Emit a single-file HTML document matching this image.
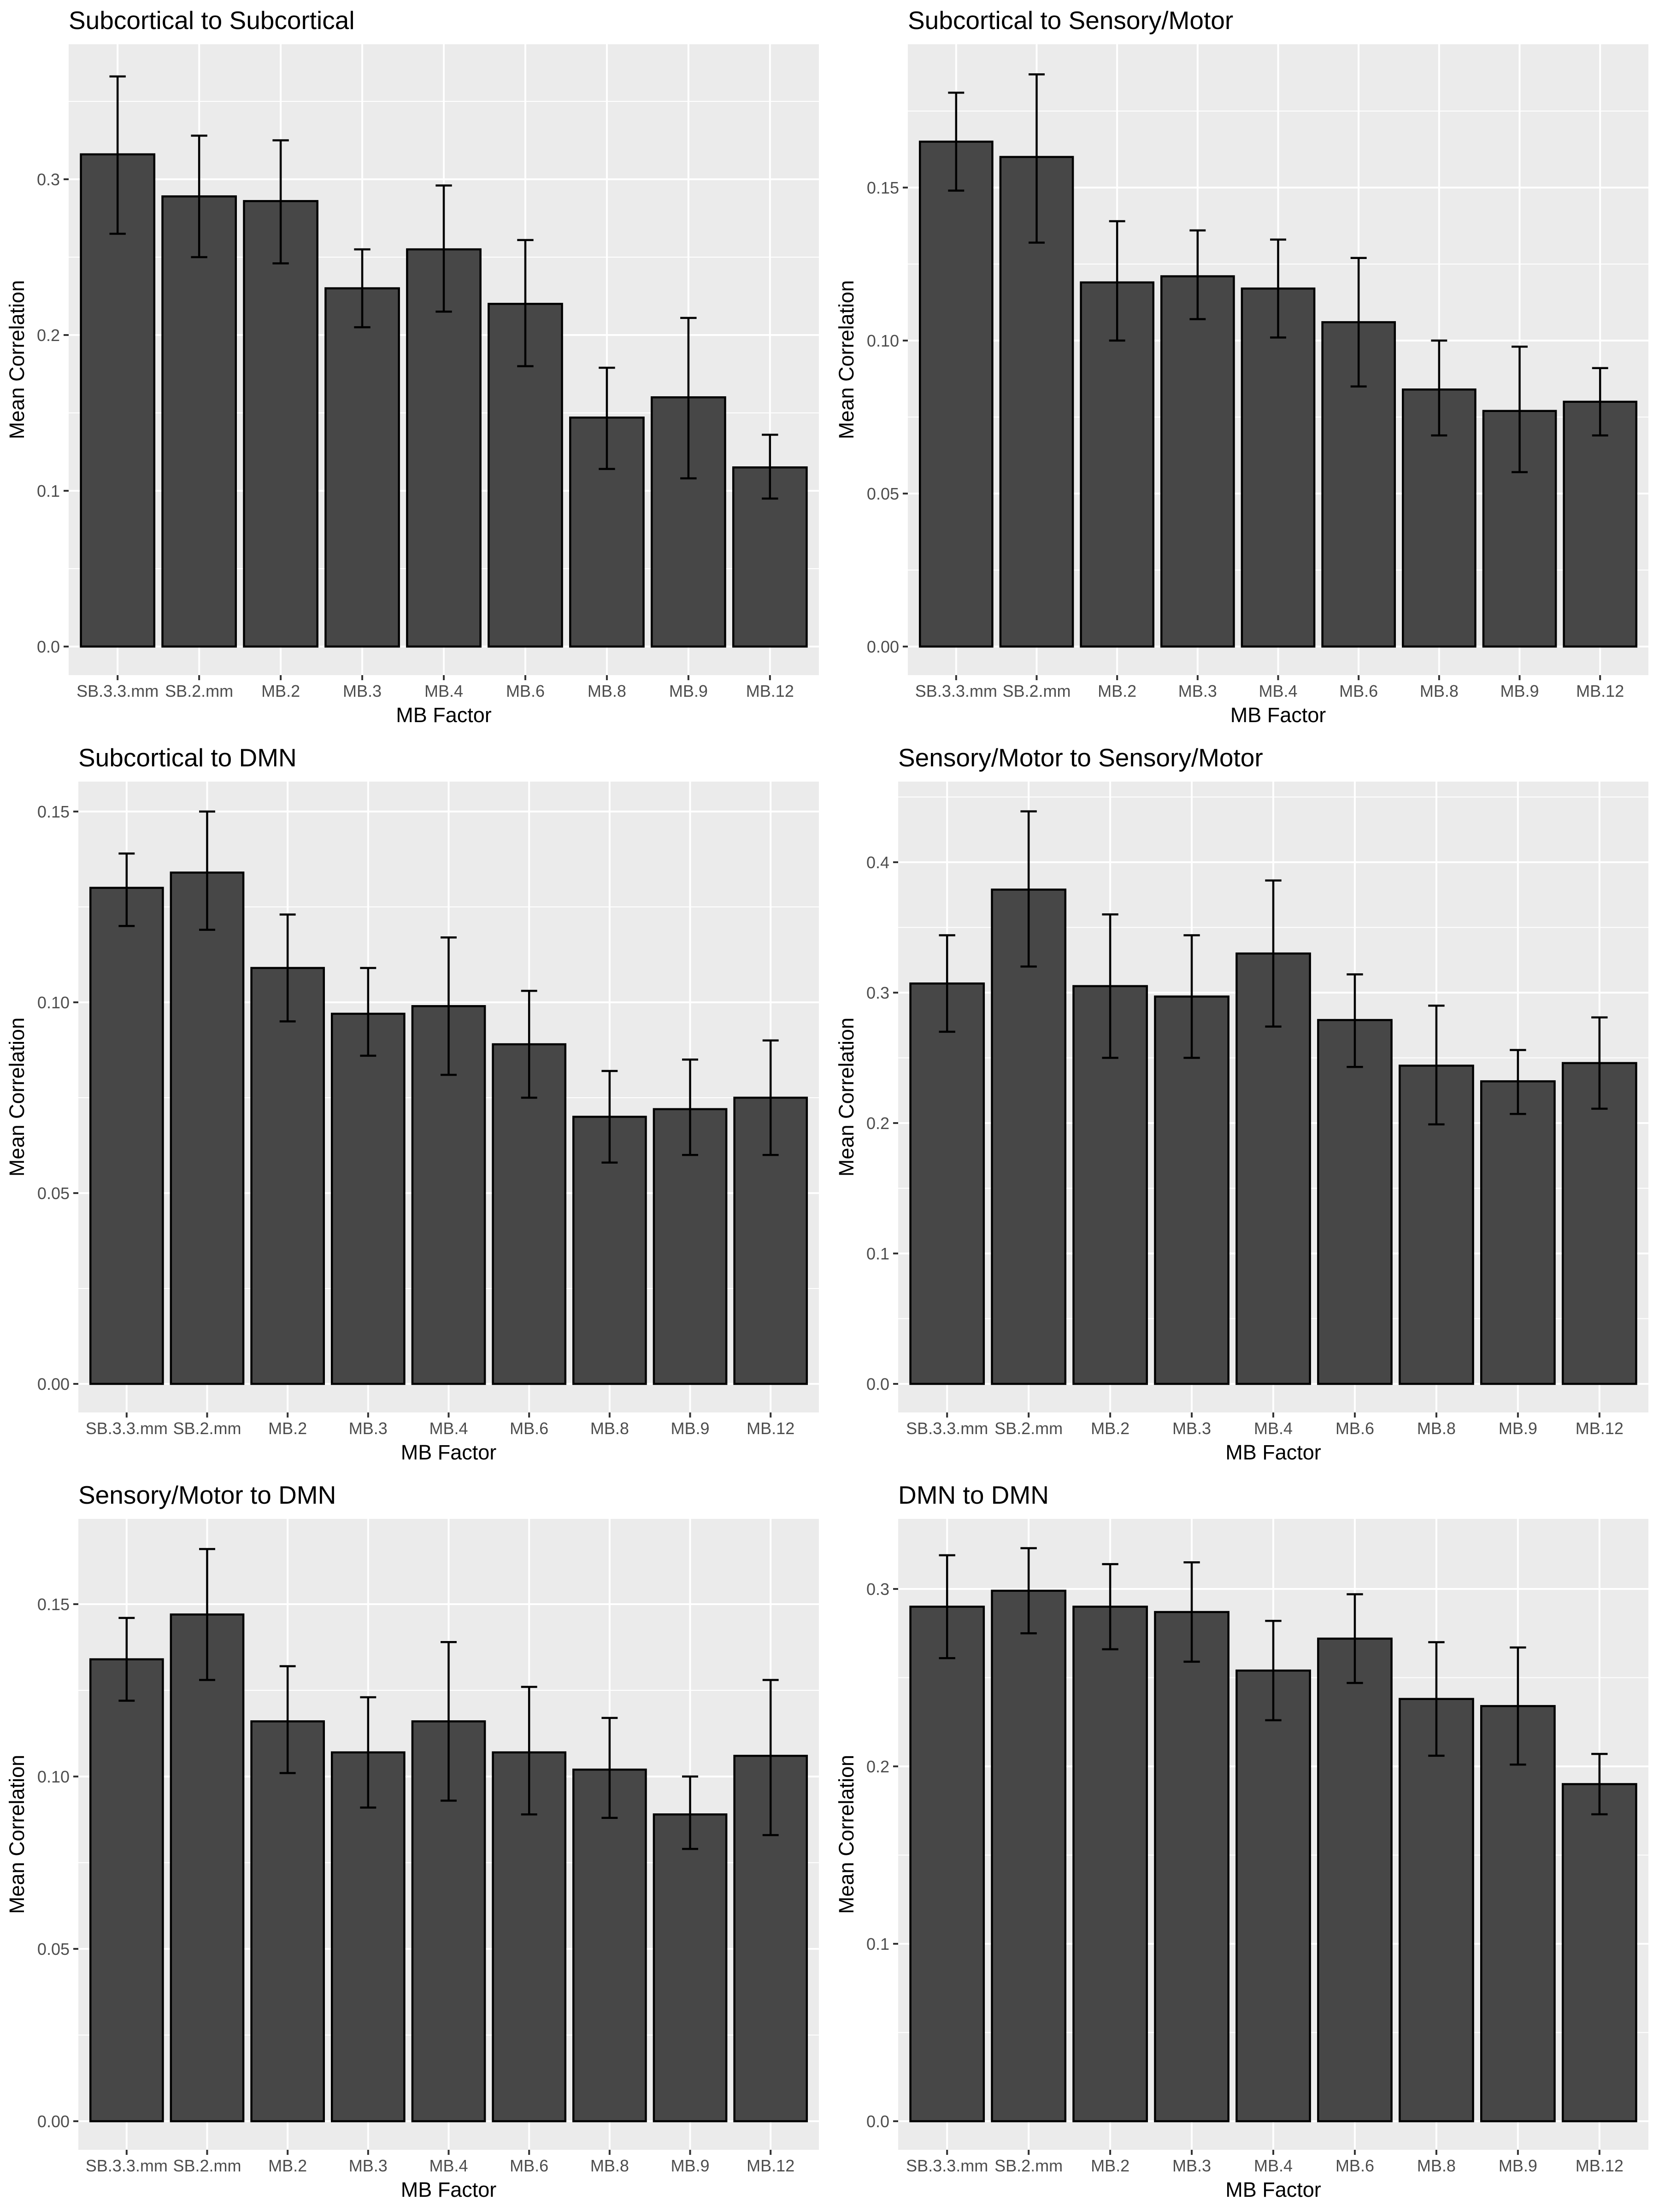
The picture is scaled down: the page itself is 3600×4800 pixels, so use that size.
<!DOCTYPE html>
<html>
<head>
<meta charset="utf-8">
<style>
  html, body { margin: 0; padding: 0; background: #ffffff; }
  svg { display: block; font-family: "Liberation Sans", Arial, sans-serif; }
</style>
</head>
<body>
<svg id="chart" xmlns="http://www.w3.org/2000/svg" width="3600" height="4800" viewBox="0 0 3600 4800"></svg>
<script>
// ---- data ----
const categories = ["SB.3.3.mm","SB.2.mm","MB.2","MB.3","MB.4","MB.6","MB.8","MB.9","MB.12"];
const titles = ["Subcortical to Subcortical","Subcortical to Sensory/Motor","Subcortical to DMN","Sensory/Motor to Sensory/Motor","Sensory/Motor to DMN","DMN to DMN"];

const means1 = [0.316,0.289,0.286,0.230,0.255,0.220,0.147,0.160,0.115];
const lo1    = [0.265,0.250,0.246,0.205,0.215,0.180,0.114,0.108,0.095];
const hi1    = [0.366,0.328,0.325,0.255,0.296,0.261,0.179,0.211,0.136];
const ticks1 = [0.0,0.1,0.2,0.3];
const tickLabels1 = ["0.0","0.1","0.2","0.3"];

const means2 = [0.165,0.160,0.119,0.121,0.117,0.106,0.084,0.077,0.080];
const lo2    = [0.149,0.132,0.100,0.107,0.101,0.085,0.069,0.057,0.069];
const hi2    = [0.181,0.187,0.139,0.136,0.133,0.127,0.100,0.098,0.091];
const ticks2 = [0.00,0.05,0.10,0.15];
const tickLabels2 = ["0.00","0.05","0.10","0.15"];

const means3 = [0.130,0.134,0.109,0.097,0.099,0.089,0.070,0.072,0.075];
const lo3    = [0.120,0.119,0.095,0.086,0.081,0.075,0.058,0.060,0.060];
const hi3    = [0.139,0.150,0.123,0.109,0.117,0.103,0.082,0.085,0.090];
const ticks3 = [0.00,0.05,0.10,0.15];
const tickLabels3 = ["0.00","0.05","0.10","0.15"];

const means4 = [0.307,0.379,0.305,0.297,0.330,0.279,0.244,0.232,0.246];
const lo4    = [0.270,0.320,0.250,0.250,0.274,0.243,0.199,0.207,0.211];
const hi4    = [0.344,0.439,0.360,0.344,0.386,0.314,0.290,0.256,0.281];
const ticks4 = [0.0,0.1,0.2,0.3,0.4];
const tickLabels4 = ["0.0","0.1","0.2","0.3","0.4"];

const means5 = [0.134,0.147,0.116,0.107,0.116,0.107,0.102,0.089,0.106];
const lo5    = [0.122,0.128,0.101,0.091,0.093,0.089,0.088,0.079,0.083];
const hi5    = [0.146,0.166,0.132,0.123,0.139,0.126,0.117,0.100,0.128];
const ticks5 = [0.00,0.05,0.10,0.15];
const tickLabels5 = ["0.00","0.05","0.10","0.15"];

const means6 = [0.290,0.299,0.290,0.287,0.254,0.272,0.238,0.234,0.190];
const lo6    = [0.261,0.275,0.266,0.259,0.226,0.247,0.206,0.201,0.173];
const hi6    = [0.319,0.323,0.314,0.315,0.282,0.297,0.270,0.267,0.207];
const ticks6 = [0.0,0.1,0.2,0.3];
const tickLabels6 = ["0.0","0.1","0.2","0.3"];

// ---- layout (pixels, not data) ----
const layout = [
  {x0:149,  x1:1777, top:96,   zero:1403, bottom:1465, pxPerUnit:3380, titleY:63,   ytX:37},
  {x0:1970, x1:3577, top:96,   zero:1403, bottom:1465, pxPerUnit:6640, titleY:63,   ytX:1837},
  {x0:170,  x1:1777, top:1696, zero:3003, bottom:3065, pxPerUnit:8280, titleY:1663, ytX:37},
  {x0:1949, x1:3577, top:1696, zero:3003, bottom:3065, pxPerUnit:2830, titleY:1663, ytX:1837},
  {x0:170,  x1:1777, top:3296, zero:4603, bottom:4665, pxPerUnit:7480, titleY:3263, ytX:37},
  {x0:1949, x1:3577, top:3296, zero:4603, bottom:4665, pxPerUnit:3850, titleY:3263, ytX:1837}
];
const allMeans = [means1,means2,means3,means4,means5,means6];
const allLo = [lo1,lo2,lo3,lo4,lo5,lo6];
const allHi = [hi1,hi2,hi3,hi4,hi5,hi6];
const allTicks = [ticks1,ticks2,ticks3,ticks4,ticks5,ticks6];
const allTickLabels = [tickLabels1,tickLabels2,tickLabels3,tickLabels4,tickLabels5,tickLabels6];

const NS = "http://www.w3.org/2000/svg";
const svg = document.getElementById("chart");
function mk(tag, attrs, parent) {
  const e = document.createElementNS(NS, tag);
  for (const k in attrs) e.setAttribute(k, attrs[k]);
  parent.appendChild(e);
  return e;
}

layout.forEach((L, p) => {
  const g = mk("g", {}, svg);
  
  
  const n = categories.length;
  const unit = (L.x1 - L.x0) / (n - 1 + 1.2);
  const xScale = i => L.x0 + (0.6 + i) * unit;
  const yScale = v => L.zero - v * L.pxPerUnit;
  const ticks = allTicks[p];
  const step = ticks[1] - ticks[0];

  const bg = mk("rect", {x:L.x0, y:L.top, width:L.x1-L.x0, height:L.bottom-L.top, fill:"#ebebeb"}, g);
  
  

  for (let v = ticks[0] - step/2; yScale(v) >= L.top; v += step) {
    const y = yScale(v);
    if (y > L.bottom) continue;
    const ml = mk("line", {x1:L.x0, x2:L.x1, y1:y, y2:y, stroke:"#ffffff", "stroke-width":2}, g);
    
    
  }
  ticks.forEach(v => {
    const y = yScale(v);
    const gl = mk("line", {x1:L.x0, x2:L.x1, y1:y, y2:y, stroke:"#ffffff", "stroke-width":4}, g);
    
    
  });
  categories.forEach((c, i) => {
    const x = xScale(i);
    const gl = mk("line", {x1:x, x2:x, y1:L.top, y2:L.bottom, stroke:"#ffffff", "stroke-width":4}, g);
    
    
  });

  const means = allMeans[p], lo = allLo[p], hi = allHi[p];
  categories.forEach((c, i) => {
    const cx = xScale(i);
    const w = unit * 0.9;
    const yTop = yScale(means[i]);
    const bar = mk("rect", {x:cx - w/2, y:yTop, width:w, height:L.zero - yTop, fill:"#474747", stroke:"#000000", "stroke-width":4.5}, g);
    
    
  });
  categories.forEach((c, i) => {
    const cx = xScale(i);
    const cw = unit * 0.1;
    const yl = yScale(lo[i]), yh = yScale(hi[i]);
    const eg = mk("g", {stroke:"#000000", "stroke-width":4.5, fill:"none"}, g);
    
    
    mk("line", {x1:cx, x2:cx, y1:yl, y2:yh}, eg);
    mk("line", {x1:cx-cw, x2:cx+cw, y1:yh, y2:yh}, eg);
    mk("line", {x1:cx-cw, x2:cx+cw, y1:yl, y2:yl}, eg);
  });

  ticks.forEach((v, k) => {
    const y = yScale(v);
    const t = mk("line", {x1:L.x0-11, x2:L.x0, y1:y, y2:y, stroke:"#333333", "stroke-width":4}, g);
    
    
    const tx = mk("text", {x:L.x0-19, y:y+13, "text-anchor":"end", "font-size":36, fill:"#4d4d4d"}, g);
    tx.textContent = allTickLabels[p][k];
    
    
  });
  categories.forEach((c, i) => {
    const x = xScale(i);
    const t = mk("line", {x1:x, x2:x, y1:L.bottom, y2:L.bottom+11, stroke:"#333333", "stroke-width":4}, g);
    
    
    const tx = mk("text", {x:x, y:L.bottom+47, "text-anchor":"middle", "font-size":36, fill:"#4d4d4d"}, g);
    tx.textContent = c;
    
    
  });

  const xt = mk("text", {x:(L.x0+L.x1)/2, y:L.bottom+102, "text-anchor":"middle", "font-size":45, fill:"#000000"}, g);
  xt.textContent = "MB Factor";
  
  
  const cy = (L.top + L.bottom) / 2;
  const yt = mk("text", {x:L.ytX + 15, y:cy, "text-anchor":"middle", "font-size":45, fill:"#000000", transform:"rotate(-90 " + (L.ytX + 15) + " " + cy + ")"}, g);
  yt.textContent = "Mean Correlation";
  
  

  const tt = mk("text", {x:L.x0, y:L.titleY, "font-size":55, fill:"#000000"}, g);
  tt.textContent = titles[p];
  
  
});
</script>
</body>
</html>
